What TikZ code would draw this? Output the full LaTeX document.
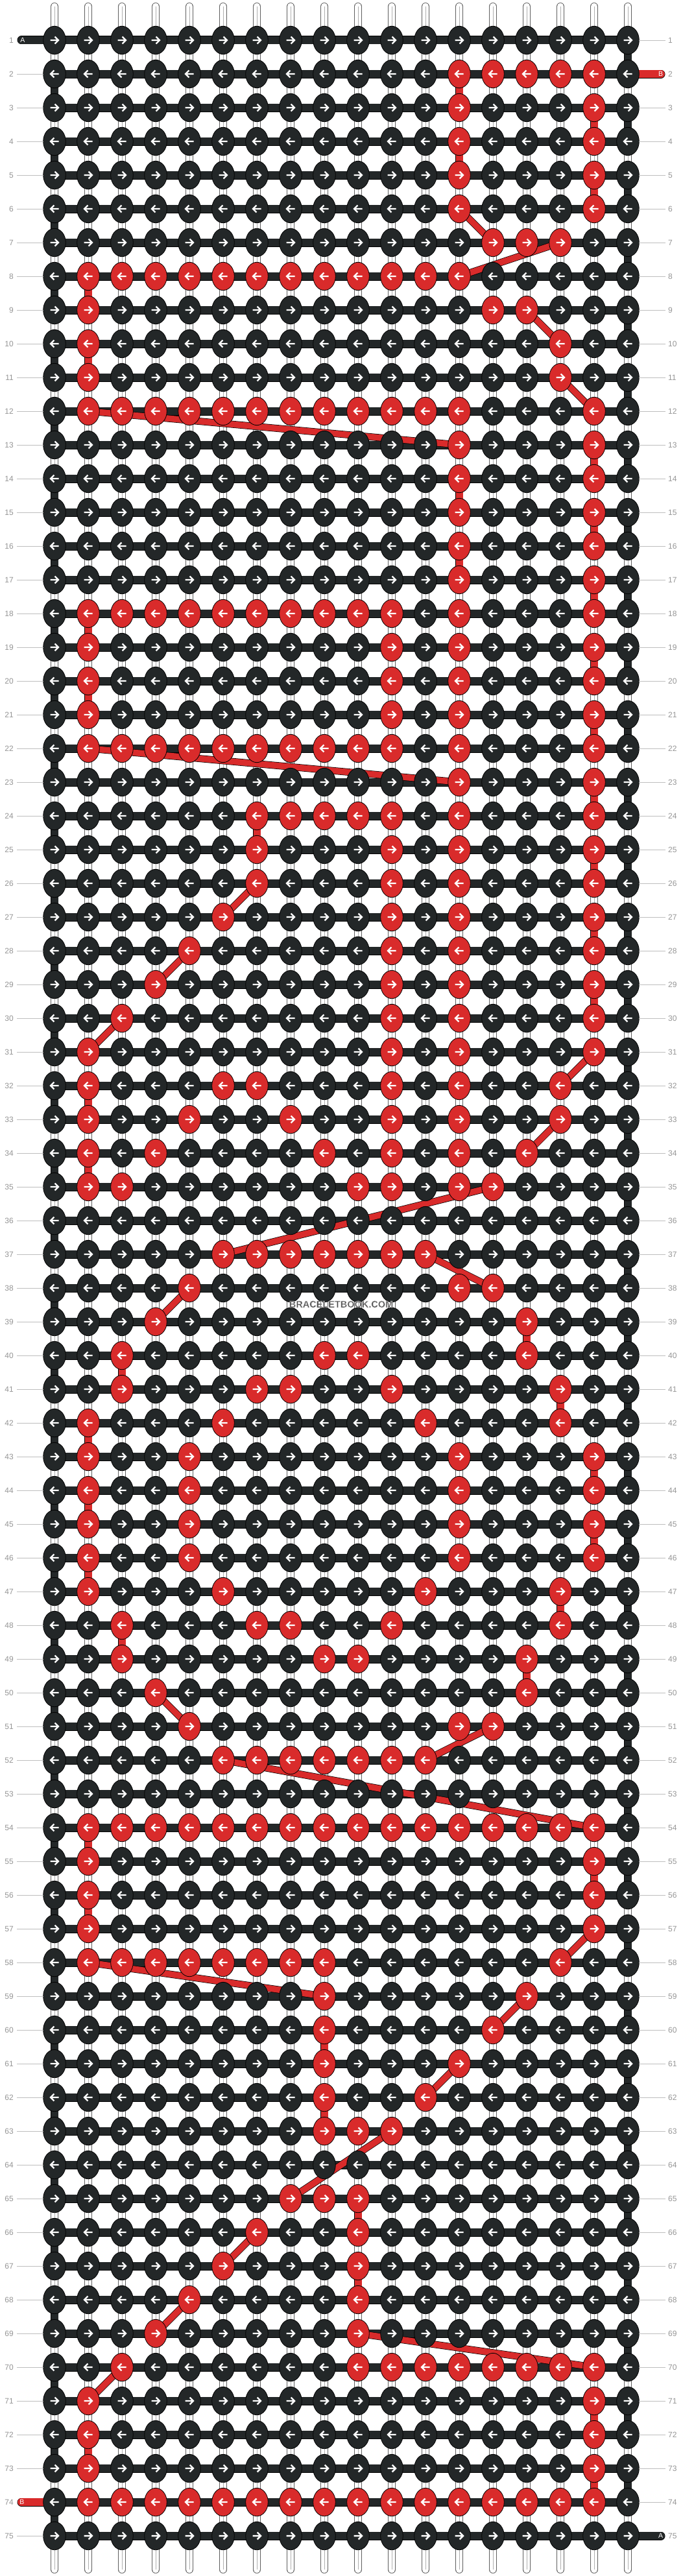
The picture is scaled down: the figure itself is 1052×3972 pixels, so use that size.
\documentclass[tikz,border=0pt]{standalone}
\usepackage{fontspec}
\setmainfont{Liberation Sans}
\usetikzlibrary{shapes.geometric}
\pgfdeclarelayer{strings}
\pgfdeclarelayer{links}
\pgfsetlayers{strings,links,main}
\definecolor{kdark}{RGB}{35,39,40}
\definecolor{kred}{RGB}{217,43,43}
\definecolor{lblgray}{RGB}{150,150,150}
\definecolor{lngray}{RGB}{190,190,190}
\definecolor{strgray}{RGB}{95,95,95}
\definecolor{strmid}{RGB}{175,175,175}
\definecolor{wmfill}{RGB}{72,72,72}
\tikzset{
  knot/.style={ellipse, draw=black, line width=0.8pt, minimum width=34.6pt, minimum height=43.4pt, inner sep=0pt, outer sep=0pt},
  arrowline/.style={white, line width=2.4pt, line join=miter, line cap=butt},
  hbar/.style={draw=black, line width=0.7pt, double=kdark, double distance=11.6pt},
  redtail/.style={draw=black, line width=0.7pt, double=kred, double distance=11.6pt, line cap=round},
  darktail/.style={draw=black, line width=0.7pt, double=kdark, double distance=11.6pt, line cap=round},
  redlink/.style={draw=black, line width=0.7pt, double=kred, double distance=11pt},
  darklink/.style={draw=black, line width=0.7pt, double=kdark, double distance=11pt},
  diaglink/.style={draw=black, line width=0.7pt, double=kred, double distance=9.5pt},
  whitestring/.style={draw=strgray, line width=0.7pt, double=white, double distance=10.6pt, line cap=round},
  midstring/.style={draw=strmid, line width=0.7pt},
  rowlbl/.style={text=lblgray, font=\fontsize{12}{14}\selectfont, inner sep=0pt},
  lblline/.style={draw=lngray, line width=0.8pt},
  taillbl/.style={text=white, font=\fontsize{10.5}{12}\selectfont, inner sep=0pt},
  wmark/.style={text=wmfill, font=\bfseries\fontsize{14.5}{16}\selectfont, inner sep=0pt}
}
\begin{document}
\begin{tikzpicture}[x=1pt,y=-1pt]
\useasboundingbox (0,0) rectangle (1052,3972);
% red knot flags
\foreach \r/\reds in {
2/{13,...,17},
3/{13,17},4/{13,17},5/{13,17},6/{13,17},
7/{14,15,16},
8/{2,...,13},
9/{2,14,15},
10/{2,16},11/{2,16},
12/{2,...,13,17},
13/{13,17},14/{13,17},15/{13,17},16/{13,17},17/{13,17},
18/{2,...,11,13,17},
19/{2,11,13,17},20/{2,11,13,17},21/{2,11,13,17},
22/{2,...,11,13,17},
23/{13,17},
24/{7,...,11,13,17},
25/{7,11,13,17},26/{7,11,13,17},
27/{6,11,13,17},28/{5,11,13,17},29/{4,11,13,17},30/{3,11,13,17},31/{2,11,13,17},
32/{2,6,7,11,13,16},33/{2,5,8,11,13,16},34/{2,4,9,11,13,15},35/{2,3,10,11,13,14},
37/{6,...,12},
38/{5,13,14},39/{4,15},40/{3,9,10,15},41/{3,7,8,11,16},42/{2,6,12,16},
43/{2,5,13,17},44/{2,5,13,17},45/{2,5,13,17},46/{2,5,13,17},
47/{2,6,12,16},48/{3,7,8,11,16},49/{3,9,10,15},50/{4,15},51/{5,13,14},
52/{6,...,12},
54/{2,...,17},
55/{2,17},56/{2,17},57/{2,17},
58/{2,...,9,16},
59/{9,15},60/{9,14},61/{9,13},62/{9,12},63/{9,10,11},
65/{8,9,10},66/{7,10},67/{6,10},68/{5,10},69/{4,10},
70/{10,...,17,3},
71/{2,17},72/{2,17},73/{2,17},
74/{2,...,17}}{
  \foreach \c in \reds {\expandafter\gdef\csname red-\c-\r\endcsname{}}
}
% knots
\foreach \r in {1,...,75}{
  \pgfmathtruncatemacro\yy{62+52*(\r-1)}
  \foreach \c in {1,...,18}{
    \pgfmathtruncatemacro\xx{84+52*(\c-1)}
    \ifcsname red-\c-\r\endcsname\def\kfill{kred}\else\def\kfill{kdark}\fi
    \node[knot, fill=\kfill] (k-\c-\r) at (\xx,\yy) {};
    \ifodd\r\relax
      \draw[arrowline, shift={(\xx,\yy)}] (-6.5,0) -- (5.5,0) (0.6,-5.4) -- (6,0) -- (0.6,5.4);
    \else
      \draw[arrowline, shift={(\xx,\yy)}] (6.5,0) -- (-5.5,0) (-0.6,-5.4) -- (-6,0) -- (-0.6,5.4);
    \fi
  }
}
% white vertical strings
\begin{pgfonlayer}{strings}
  \fill[white] (0,0) rectangle (1052,3972);
  \foreach \c in {1,...,18}{
    \pgfmathtruncatemacro\xx{84+52*(\c-1)}
    \coordinate (top-\c) at (\xx,10);
    \coordinate (bot-\c) at (\xx,3962);
    \draw[whitestring] (top-\c) -- (bot-\c);
    \draw[midstring] (top-\c) -- (bot-\c);
  }
\end{pgfonlayer}
% links
\begin{pgfonlayer}{links}
  \foreach \r in {1,...,75}{
    \draw[hbar] (k-1-\r.center) -- (k-18-\r.center);
  }
  \foreach \r in {2,4,...,74}{
    \pgfmathtruncatemacro\rn{\r+1}
    \draw[darklink] (k-1-\r.center) -- (k-1-\rn.center);
  }
  \foreach \r in {1,3,...,73}{
    \pgfmathtruncatemacro\rn{\r+1}
    \draw[darklink] (k-18-\r.center) -- (k-18-\rn.center);
  }
  \foreach \c/\r in {13/2, 17/3, 13/4, 17/5, 2/8, 2/10, 17/13, 13/14, 17/15, 13/16, 17/17, 2/18, 17/19, 2/20, 17/21, 17/23, 7/24, 17/25, 17/27, 17/29, 2/32, 2/34, 15/39, 3/40, 16/41, 2/42, 17/43, 2/44, 17/45, 2/46, 16/47, 3/48, 15/49, 2/54, 17/55, 2/56, 9/60, 9/62, 10/65, 10/67, 17/71, 2/72, 17/73}{
    \pgfmathtruncatemacro\rn{\r+1}
    \draw[redlink] (k-\c-\r.center) -- (k-\c-\rn.center);
  }
  \foreach \ca/\ra/\cb/\rb in {13/6/14/7, 16/7/13/8, 15/9/16/10, 16/11/17/12, 2/12/13/13, 2/22/13/23, 7/26/6/27, 5/28/4/29, 3/30/2/31, 17/31/16/32, 16/33/15/34, 14/35/6/37, 12/37/14/38, 5/38/4/39, 4/50/5/51, 14/51/12/52, 6/52/17/54, 17/57/16/58, 2/58/9/59, 15/59/14/60, 13/61/12/62, 11/63/8/65, 7/66/6/67, 5/68/4/69, 10/69/17/70, 3/70/2/71}{
    \draw[diaglink] (k-\ca-\ra.center) -- (k-\cb-\rb.center);
  }
  % tails
  \coordinate (tailA-in) at (33,62);
  \coordinate (tailB-in) at (1019,114);
  \coordinate (tailB-out) at (33,3858);
  \coordinate (tailA-out) at (1019,3910);
  \draw[darktail] (tailA-in) -- (k-1-1.center);
  \draw[redtail] (k-18-2.center) -- (tailB-in);
  \draw[redtail] (tailB-out) -- (k-1-74.center);
  \draw[darktail] (k-18-75.center) -- (tailA-out);
\end{pgfonlayer}
\node[taillbl] (lblA-in) at (35,62) {A};
\node[taillbl] (lblB-in) at (1018.5,114) {B};
\node[taillbl] (lblB-out) at (34,3858) {B};
\node[taillbl] (lblA-out) at (1018.5,3910) {A};
% row labels
\foreach \r in {1,...,75}{
  \pgfmathtruncatemacro\yy{62+52*(\r-1)}
  \node[rowlbl, anchor=east] (ll-\r) at (21,\yy) {\r};
  \node[rowlbl, anchor=west] (rl-\r) at (1030,\yy) {\r};
  \ifnum\r=1\relax\else\ifnum\r=74\relax\else
    \draw[lblline] (ll-\r.east) ++(5,0) -- (k-1-\r.west);
  \fi\fi
  \ifnum\r=2\relax\else\ifnum\r=75\relax\else
    \draw[lblline] (k-18-\r.east) -- ([xshift=-4pt]rl-\r.west);
  \fi\fi
}
% watermark
\node[wmark] (wm) at (526,2011) {\special{pdf:literal direct 2 Tr 0.5 w 0.85 G}BRACELETBOOK.COM\special{pdf:literal direct 0 Tr}};
\end{tikzpicture}
\end{document}
